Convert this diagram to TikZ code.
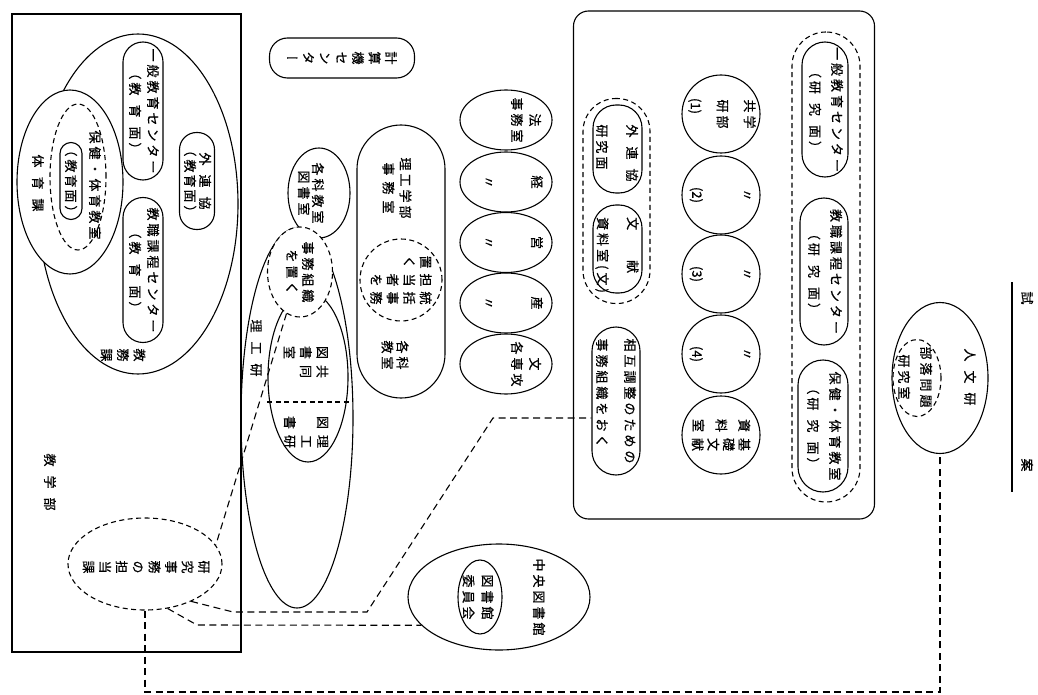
\documentclass[tikz,border=0pt]{standalone}
\usepackage{fontspec}
\setmainfont{Noto Sans CJK JP}[FakeBold=0.5]
\newfontfamily\tatefont{Noto Sans CJK JP}[RawFeature=+vert,FakeBold=0.5]
\usetikzlibrary{shapes.geometric}
\makeatletter
\newcommand\tcol[2][16.5pt]{\vtop{\baselineskip=#1\lineskiplimit=-30pt\@tfor\tc@x:=#2\do{\hbox to 1em{\hss\tc@x\hss}}}}
\makeatother
\newcommand\fsz[1]{\fontsize{13}{#1}\selectfont\addfontfeature{LetterSpace=23}}
\newcommand\tfs{\tatefont\fontsize{13}{16}\selectfont}
\newcommand\gp[1]{\hspace{#1pt}}
\begin{document}
\begin{tikzpicture}[x=1pt,y=-1pt,
  every node/.style={inner sep=0pt},
  shp/.style={draw, line width=1.1pt},
  ell/.style={shp, ellipse},
  dsh/.style={dash pattern=on 5pt off 3.5pt},
  stad/.style={shp, rectangle, rounded corners=#1},
  t/.style={rotate=-90, align=center, font=\fsz{#1}},
  tl/.style={rotate=-90, align=left, font=\fsz{#1}},
  tt/.style={rotate=-90, font=\tfs},
  conn/.style={line width=1.1pt, dash pattern=on 7pt off 4.5pt},
]
\useasboundingbox (0,0) rectangle (1038,695);

% ---------------- left block: 教学部
\node[shp, rectangle, minimum width=229pt, minimum height=638pt] (kyogaku) at (126.5,333) {};
\node[ell, minimum width=200pt, minimum height=340pt] (kyomu) at (138,204) {};
\node[ell, fill=white, minimum width=106pt, minimum height=184pt] (taiiku) at (70,182) {};
\node[ell, dsh, minimum width=56pt, minimum height=146pt] (hoken) at (78,177) {};
\node[stad=11pt, minimum width=22pt, minimum height=77pt] (kmen) at (71,181) {};
\node[t=16] (hokent) at (95,185) {保健・体育教室};
\node[t=16] (kment) at (71,181) {（教\gp{2}育\gp{2}面）};
\node[t=16] (taiikut) at (38,183) {体\gp{9}育\gp{9}課};
\node[stad=20pt, minimum width=40pt, minimum height=138pt] (ippan) at (143,111) {};
\node[t=18] (ippant) at (144,111) {一般教育センター\\（教\gp{9}育\gp{9}面）};
\node[stad=17pt, minimum width=35pt, minimum height=97pt] (gai) at (197,181) {};
\node[t=15] (gait) at (197.5,181) {外\gp{9}連\gp{9}協\\（教\gp{2}育\gp{2}面）};
\node[stad=20pt, minimum width=40pt, minimum height=145pt] (kyoshoku) at (143,270) {};
\node[t=18] (kyoshokut) at (144,270) {教職課程センター\\（教\gp{9}育\gp{9}面）};
\node[tt] (kyomut) at (123,355) {\tcol{教務課}};
\node[t=16] (kyogakut) at (50,482) {教\gp{9}学\gp{9}部};
\node[ell, dsh, minimum width=154pt, minimum height=92pt] (kenjimu) at (145,564) {};
\node[tt] (kenjimut) at (146,567) {\tcol{研究事務の担当課}};

% ---------------- middle
\node[stad=18pt, minimum width=145pt, minimum height=40pt] (keisan) at (342,58) {};
\node[tt] (keisant) at (342,58) {\tcol{計算機センター}};
\node[ell, minimum width=62pt, minimum height=90pt] (kakka) at (319,193) {};
\node[t=14] (kakkat) at (311,193) {各科教室\\図書室};
\node[ell, minimum width=112pt, minimum height=380pt] (riko) at (297,418) {};
\node[t=16] (rikot) at (256,348) {理\gp{9}工\gp{9}研};
\node[ell, minimum width=80pt, minimum height=170pt] (kyodo) at (308,377) {};
\draw[line width=1.1pt, dash pattern=on 5pt off 3.5pt] (kyodo.west |- 0,402) -- (kyodo.east |- 0,402);
\node[tt] (kyodot) at (306,362) {\tcol{図書室}\gp{6}\tcol{共同}};
\node[tt] (rikotosho) at (306,432) {\tcol{図　書}\gp{6}\tcol{理工研}};
\node[ell, dsh, fill=white, minimum width=65pt, minimum height=90pt] (jimusoshiki) at (300,272) {};
\node[t=16] (jimusoshikit) at (300,272) {事務組織\\を置く};

\node[stad=44pt, minimum width=88pt, minimum height=273pt] (rikojimu) at (401,261.5) {};
\node[t=17] (rikojimut) at (397,188) {理工学部\\事\gp{6}務\gp{6}室};
\node[t=15] (kakka2t) at (395,355) {各科\\教室};
\node[ell, dsh, minimum width=82pt, minimum height=82pt] (tokatsu) at (401,280) {};
\node[tt] (tokatsut) at (401,280) {\tcol{置く}\gp{5}\tcol{担当者を}\gp{5}\tcol{統括事務}};

% faculty column
\node[ell, minimum width=92pt, minimum height=60pt] (hou) at (506,120) {};
\node[ell, minimum width=92pt, minimum height=60pt] (kei) at (506,182) {};
\node[ell, minimum width=92pt, minimum height=60pt] (ei) at (506,242.5) {};
\node[ell, minimum width=92pt, minimum height=60pt] (san) at (506,303) {};
\node[ell, minimum width=92pt, minimum height=60pt] (bun) at (506,364) {};
\node[t=18] (hout) at (526,120) {法\\事務室};
\node[t=16] (keit) at (537,182) {経};
\node[t=16] (kei2) at (488,182) {〃};
\node[t=16] (eit) at (537,242.5) {営};
\node[t=16] (ei2) at (488,242.5) {〃};
\node[t=16] (sant) at (537,303) {産};
\node[t=16] (san2) at (488,303) {〃};
\node[t=18] (bunt) at (526,364) {文\\各専攻};

% 中央図書館
\node[ell, minimum width=182pt, minimum height=106pt] (chuo) at (499,597) {};
\node[ell, minimum width=44pt, minimum height=74pt] (iinkai) at (480,597) {};
\node[t=16] (chuot) at (539,597) {中央図書館};
\node[t=19] (iinkait) at (478,597) {図書館\\委員会};

% ---------------- right block
\node[stad=15pt, minimum width=301pt, minimum height=508pt] (R) at (724,265) {};
\node[stad=33pt, dsh, minimum width=67pt, minimum height=205pt] (Ld) at (616.5,201) {};
\node[stad=23pt, minimum width=49pt, minimum height=88pt] (gai2) at (617.5,149) {};
\node[tl=30] (gai2t) at (617,153) {外\gp{9}連\gp{9}協\\研究面};
\node[stad=23pt, minimum width=49pt, minimum height=88pt] (bunken) at (617.5,249) {};
\node[tl=30] (bunkent) at (617,255) {文\gp{30}献\\資料室(文)};
\node[stad=24pt, minimum width=48pt, minimum height=148pt] (sogo) at (616,401) {};
\node[tl=28] (sogot) at (616,401) {相互調整のための\\事務組織をおく};

\node[ell, minimum width=78pt, minimum height=78pt] (c1) at (721,114) {};
\node[ell, minimum width=78pt, minimum height=78pt] (c2) at (721,195) {};
\node[ell, minimum width=78pt, minimum height=78pt] (c3) at (721,274) {};
\node[ell, minimum width=78pt, minimum height=78pt] (c4) at (721,354) {};
\node[ell, minimum width=78pt, minimum height=78pt] (c5) at (721,435) {};
\node[tt] (c1t) at (722,114) {\tcol[27pt]{共研{\normalfont(1)}}\gp{3}\tcol[27pt]{学部}};
\node[tt] (c2t) at (720,195) {\tcol[50pt]{〃{\normalfont(2)}}};
\node[tt] (c3t) at (720,274) {\tcol[50pt]{〃{\normalfont(3)}}};
\node[tt] (c4t) at (720,354) {\tcol[50pt]{〃{\normalfont(4)}}};
\node[tt] (c5t) at (721,435) {\tcol[23pt]{資料室}\gp{6}\tcol[15.5pt]{基礎文献}};

\node[stad=34pt, dsh, minimum width=68pt, minimum height=470pt] (Rd) at (826,267) {};
\node[stad=23pt, minimum width=46pt, minimum height=135pt] (ippan2) at (825,109.5) {};
\node[t=22] (ippan2t) at (826,109.5) {一般教育センター\\（研\gp{9}究\gp{9}面）};
\node[stad=24pt, minimum width=48pt, minimum height=147pt] (kyoshoku2) at (824,271.5) {};
\node[t=22] (kyoshoku2t) at (825,271.5) {教職課程センター\\（研\gp{9}究\gp{9}面）};
\node[stad=25pt, minimum width=50pt, minimum height=132pt] (hoken2) at (823,426) {};
\node[t=22] (hoken2t) at (824,426) {保健・体育教室\\（研\gp{9}究\gp{9}面）};

% 人文研
\node[ell, minimum width=96pt, minimum height=151pt] (jinbun) at (940,378) {};
\node[ell, dsh, minimum width=48pt, minimum height=77pt] (buraku) at (917,378) {};
\node[t=16] (jinbunt) at (970,377) {人\gp{9}文\gp{9}研};
\node[t=22] (burakut) at (915,377) {部落問題\\研究室};

% title
\node[t=16] (shi) at (1027,298) {試};
\node[t=16] (an) at (1027,465) {案};
\draw[line width=1.1pt] (1012,282) coordinate (u1) -- (1012,492) coordinate (u2);

% ---------------- connectors
\coordinate (b1) at (233,612);
\coordinate (b2) at (367,612);
\coordinate (b3) at (493,418);
\coordinate (d1) at (197,625);
\draw[conn] (kenjimu.south) -- (kenjimu.south |- 0,692) -- (jinbun.south |- 0,692) -- (jinbun.south);
\draw[conn] (kenjimu.-39) -- (b1) -- (b2) -- (b3) -- (sogo.west |- b3);
\draw[conn] (kenjimu.-63) -- (d1) -- (chuo.200);
\draw[conn] (jimusoshiki.252) -- (kenjimu.15);
\end{tikzpicture}
\end{document}
